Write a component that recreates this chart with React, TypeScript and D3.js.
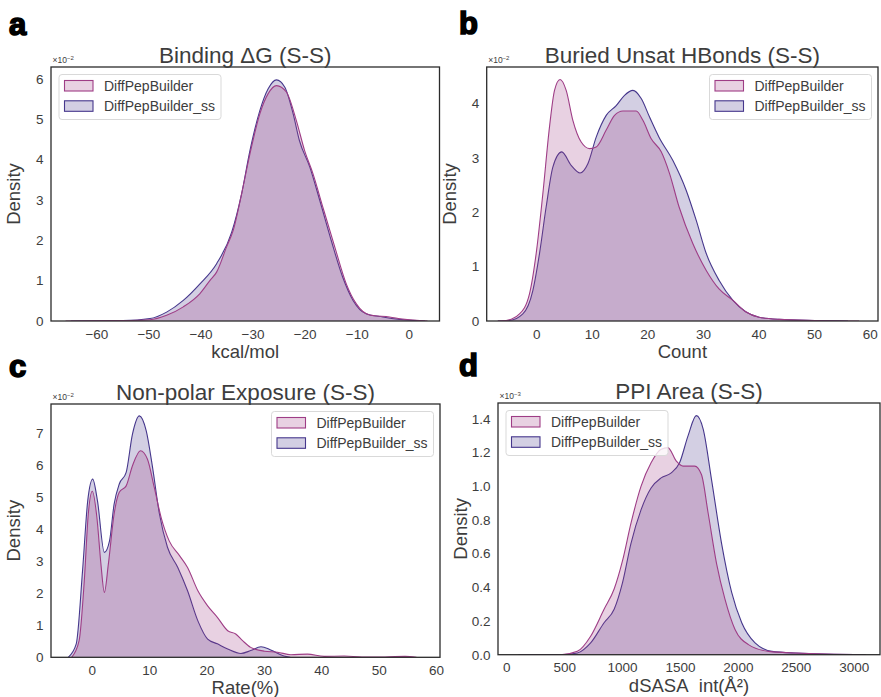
import React from 'react';
import * as d3 from 'd3';

// ---------- Data (density values in units shown on each axis) ----------
const SERIES_NAMES = ['DiffPepBuilder', 'DiffPepBuilder_ss'];
const PINK = '#9e3d86';
const PURPLE = '#46378c';

// Panel a: Binding ΔG (×10^-2)
const A_PINK_X = [-66, -55, -49.8, -46.6, -43.4, -40.2, -38.3, -37.0, -35.1, -33.8, -32.2, -30.6, -28.7, -27.1, -25.5, -23.6, -21.7, -20.1, -18.5, -16.6, -14.3, -12.1, -10.2, -7.6, -3.8, -1.3, 3.5];
const A_PINK_Y = [0, 0.01, 0.03, 0.14, 0.35, 0.68, 1.0, 1.21, 1.83, 2.25, 3.15, 4.14, 5.13, 5.63, 5.83, 5.67, 4.97, 4.22, 3.65, 2.82, 1.83, 0.92, 0.43, 0.15, 0.1, 0.05, 0];
const A_PURPLE_X = [-65, -55, -49.8, -46.6, -43.4, -40.2, -37.0, -34.1, -32.2, -30.6, -28.7, -27.1, -25.5, -23.9, -22.3, -21.1, -19.1, -17.2, -15.0, -12.8, -10.8, -8.3, -5.1, -1.9, 3];
const A_PURPLE_Y = [0, 0.01, 0.06, 0.22, 0.51, 0.92, 1.42, 2.2, 3.15, 4.22, 5.21, 5.75, 5.97, 5.79, 5.13, 4.47, 3.81, 2.99, 2.0, 1.09, 0.51, 0.18, 0.1, 0.04, 0];

// Panel b: Buried Unsat HBonds (×10^-2)
const B_PINK_X = [-7, -5.5, -3.1, -1.3, -0.1, 1.1, 2.3, 3.2, 4.2, 5.3, 6.5, 8.0, 9.5, 10.7, 12.5, 14.0, 15.5, 17.9, 19.1, 20.6, 22.4, 23.9, 25.6, 28.1, 30.5, 32.8, 35.3, 37.6, 40.0, 43.6, 50, 58];
const B_PINK_Y = [0, 0.01, 0.13, 0.5, 1.24, 2.34, 3.57, 4.24, 4.44, 4.24, 3.69, 3.29, 3.17, 3.2, 3.51, 3.78, 3.86, 3.86, 3.69, 3.35, 3.11, 2.71, 2.1, 1.42, 0.93, 0.59, 0.38, 0.17, 0.07, 0.03, 0.01, 0];
const B_PURPLE_X = [-7, -4.9, -2.5, -0.7, 0.5, 1.7, 2.9, 4.5, 6.2, 7.8, 9.2, 10.7, 12.5, 14.3, 15.8, 17.3, 18.8, 20.3, 22.0, 24.5, 26.9, 28.7, 30.5, 32.8, 35.3, 37.6, 40, 43.6, 50, 56];
const B_PURPLE_Y = [0, 0.01, 0.13, 0.56, 1.24, 2.1, 2.83, 3.11, 2.86, 2.72, 2.89, 3.38, 3.78, 3.96, 4.15, 4.24, 4.09, 3.75, 3.38, 2.95, 2.4, 1.85, 1.24, 0.75, 0.38, 0.17, 0.07, 0.03, 0.01, 0];

// Panel c: Non-polar Exposure (×10^-2)
const C_PINK_X = [-3.6, -2.3, -1.4, -0.7, 0, 0.8, 1.5, 2.1, 2.8, 3.8, 4.7, 5.9, 7.0, 8.4, 9.6, 10.8, 12.0, 13.4, 15.2, 16.6, 18.4, 20.1, 21.8, 23.6, 25.0, 26.2, 27.6, 30.0, 32.3, 34.6, 37.5, 40.4, 43.9, 47, 51, 54.5, 56.5];
const C_PINK_Y = [0, 0.52, 2.39, 4.48, 5.19, 4.37, 2.92, 2.03, 2.92, 4.48, 5.16, 5.36, 5.99, 6.46, 6.2, 5.31, 4.37, 3.64, 3.18, 2.81, 2.08, 1.61, 1.25, 0.83, 0.73, 0.52, 0.31, 0.19, 0.16, 0.08, 0.1, 0.03, 0.04, 0.01, 0.01, 0.03, 0];
const C_PURPLE_X = [-4.2, -2.8, -1.7, -0.8, 0.07, 0.9, 2.1, 3.0, 3.8, 4.7, 5.9, 7.0, 8.2, 9.4, 10.5, 11.7, 13.1, 14.9, 16.6, 18.4, 20.1, 21.8, 23.6, 25.9, 27.6, 29.4, 31.1, 33.4, 34.5];
const C_PURPLE_Y = [0, 0.42, 2.71, 4.89, 5.57, 4.89, 3.28, 3.64, 4.79, 5.42, 5.78, 6.98, 7.55, 7.08, 5.94, 4.48, 3.44, 2.81, 2.08, 1.14, 0.57, 0.42, 0.26, 0.12, 0.21, 0.33, 0.23, 0.04, 0];

// Panel d: PPI Area (×10^-3)
const D_PINK_X = [100, 463, 609, 724, 840, 927, 1000, 1072, 1159, 1246, 1333, 1391, 1464, 1522, 1623, 1681, 1739, 1812, 1884, 1971, 2087, 2260, 2500, 3100];
const D_PINK_Y = [0, 0, 0.02, 0.11, 0.27, 0.39, 0.56, 0.78, 1.0, 1.14, 1.22, 1.23, 1.15, 1.12, 1.12, 1.07, 0.84, 0.54, 0.33, 0.15, 0.06, 0.02, 0.01, 0];
const D_PURPLE_X = [100, 463, 609, 724, 840, 927, 1000, 1072, 1159, 1246, 1333, 1420, 1492, 1565, 1637, 1696, 1768, 1855, 1942, 2029, 2144, 2290, 2492, 3100];
const D_PURPLE_Y = [0, 0, 0.01, 0.07, 0.19, 0.27, 0.43, 0.66, 0.86, 0.99, 1.05, 1.08, 1.14, 1.3, 1.42, 1.34, 1.04, 0.66, 0.37, 0.19, 0.07, 0.02, 0.01, 0];

// Tick labels
const A_XTICKS = [-60, -50, -40, -30, -20, -10, 0];
const A_YTICKS = [0, 1, 2, 3, 4, 5, 6];
const B_XTICKS = [0, 10, 20, 30, 40, 50, 60];
const B_YTICKS = [0, 1, 2, 3, 4];
const C_XTICKS = [0, 10, 20, 30, 40, 50, 60];
const C_YTICKS = [0, 1, 2, 3, 4, 5, 6, 7];
const D_XTICKS = [0, 500, 1000, 1500, 2000, 2500, 3000];
const D_YTICKS = [0, 0.2, 0.4, 0.6, 0.8, 1.0, 1.2, 1.4];

const FONT = '"Liberation Sans", Arial, Helvetica, sans-serif';
const TEXT = '#3d3d3d';

type PanelCfg = {
  id: string;
  letter: string;
  letterPos: [number, number];
  box: { l: number; r: number; t: number; b: number };
  xDom: [number, number];
  yDom: [number, number];
  xTicks: number[];
  yTicks: number[];
  yFmt: (v: number) => string;
  title: string;
  xLabel: string;
  exp: string;
  legend: 'ul' | 'ur';
  pink: [number[], number[]];
  purple: [number[], number[]];
};

const fmtInt = d3.format('d');
const fmt1 = d3.format('.1f');

const PANELS: PanelCfg[] = [
  {
    id: 'a', letter: 'a', letterPos: [9, 35],
    box: { l: 51, r: 439.5, t: 67, b: 321 },
    xDom: [-68.8, 5.8], yDom: [0, 6.29],
    xTicks: A_XTICKS, yTicks: A_YTICKS, yFmt: fmtInt,
    title: 'Binding ΔG (S-S)', xLabel: 'kcal/mol', exp: '−2', legend: 'ul',
    pink: [A_PINK_X, A_PINK_Y], purple: [A_PURPLE_X, A_PURPLE_Y],
  },
  {
    id: 'b', letter: 'b', letterPos: [459, 34],
    box: { l: 486.7, r: 878, t: 67, b: 321 },
    xDom: [-9, 61.4], yDom: [0, 4.67],
    xTicks: B_XTICKS, yTicks: B_YTICKS, yFmt: fmtInt,
    title: 'Buried Unsat HBonds (S-S)', xLabel: 'Count', exp: '−2', legend: 'ur',
    pink: [B_PINK_X, B_PINK_Y], purple: [B_PURPLE_X, B_PURPLE_Y],
  },
  {
    id: 'c', letter: 'c', letterPos: [9, 377],
    box: { l: 51, r: 440, t: 404, b: 657.3 },
    xDom: [-7.2, 60.6], yDom: [0, 7.92],
    xTicks: C_XTICKS, yTicks: C_YTICKS, yFmt: fmtInt,
    title: 'Non-polar Exposure (S-S)', xLabel: 'Rate(%)', exp: '−2', legend: 'ur',
    pink: [C_PINK_X, C_PINK_Y], purple: [C_PURPLE_X, C_PURPLE_Y],
  },
  {
    id: 'd', letter: 'd', letterPos: [459, 376],
    box: { l: 498, r: 880, t: 403, b: 654.7 },
    xDom: [-76, 3223], yDom: [0, 1.495],
    xTicks: D_XTICKS, yTicks: D_YTICKS, yFmt: fmt1,
    title: 'PPI Area (S-S)', xLabel: 'dSASA\u00a0\u00a0int(Å²)', exp: '−3', legend: 'ul',
    pink: [D_PINK_X, D_PINK_Y], purple: [D_PURPLE_X, D_PURPLE_Y],
  },
];

function Panel({ cfg }: { cfg: PanelCfg }) {
  const { box } = cfg;
  const x = d3.scaleLinear().domain(cfg.xDom).range([box.l, box.r]);
  const y = d3.scaleLinear().domain(cfg.yDom).range([box.b, box.t]);
  const mkArea = (xs: number[], ys: number[]) =>
    d3
      .area<number>()
      .x((_, i) => x(xs[i]))
      .y0(y(0))
      .y1((_, i) => y(ys[i]))
      .curve(d3.curveMonotoneX)(ys) as string;
  const mkLine = (xs: number[], ys: number[]) =>
    d3
      .line<number>()
      .x((_, i) => x(xs[i]))
      .y((_, i) => y(ys[i]))
      .curve(d3.curveMonotoneX)(ys) as string;

  const cx = (box.l + box.r) / 2;
  const cy = (box.t + box.b) / 2;
  const legW = 162;
  const legX = cfg.legend === 'ul' ? box.l + 8 : box.r - 6.5 - legW;
  const legY = box.t + 7.5;
  const series = [
    { name: SERIES_NAMES[0], color: PINK },
    { name: SERIES_NAMES[1], color: PURPLE },
  ];
  const clipId = `clip-${cfg.id}`;
  return (
    <g>
      <defs>
        <clipPath id={clipId}>
          <rect x={box.l} y={box.t} width={box.r - box.l} height={box.b - box.t} />
        </clipPath>
      </defs>
      <g clipPath={`url(#${clipId})`}>
        <path d={mkArea(cfg.purple[0], cfg.purple[1])} fill={PURPLE} fillOpacity={0.24} />
        <path d={mkLine(cfg.purple[0], cfg.purple[1])} fill="none" stroke={PURPLE} strokeWidth={1.1} />
        <path d={mkArea(cfg.pink[0], cfg.pink[1])} fill={PINK} fillOpacity={0.24} />
        <path d={mkLine(cfg.pink[0], cfg.pink[1])} fill="none" stroke={PINK} strokeWidth={1.1} />
      </g>
      <rect
        x={box.l}
        y={box.t}
        width={box.r - box.l}
        height={box.b - box.t}
        fill="none"
        stroke="#2b2b2b"
        strokeWidth={1.3}
      />
      {cfg.xTicks.map((t) => (
        <text key={`x${t}`} x={x(t)} y={box.b + 17.5} textAnchor="middle" fontSize={13.5} fill={TEXT}>
          {d3.format('d')(t)}
        </text>
      ))}
      {cfg.yTicks.map((t) => (
        <text key={`y${t}`} x={box.l - 7.5} y={y(t) + 4.8} textAnchor="end" fontSize={13.5} fill={TEXT}>
          {cfg.yFmt(t)}
        </text>
      ))}
      <text x={cx} y={box.t - 4.5} textAnchor="middle" fontSize={22.5} fill={TEXT}>
        {cfg.title}
      </text>
      <text x={cx} y={box.b + 37} textAnchor="middle" fontSize={18.5} fill={TEXT} style={{ whiteSpace: 'pre' }}>
        {cfg.xLabel}
      </text>
      <text
        transform={`translate(${box.l - 31},${cy}) rotate(-90)`}
        textAnchor="middle"
        fontSize={18.5}
        fill={TEXT}
      >
        Density
      </text>
      <text x={box.l + 1.5} y={box.t - 4} fontSize={8.5} fill={TEXT}>
        ×10
        <tspan dy={-3.5} fontSize={6}>
          {cfg.exp}
        </tspan>
      </text>
      <text
        x={cfg.letterPos[0]}
        y={cfg.letterPos[1]}
        fontSize={31}
        fontWeight={900}
        fill="#000"
        stroke="#000"
        strokeWidth={1.6}
      >
        {cfg.letter}
      </text>
      <g>
        <rect
          x={legX}
          y={legY}
          width={legW}
          height={45}
          rx={3}
          fill="#fff"
          fillOpacity={0.8}
          stroke="#d9d9d9"
          strokeWidth={1}
        />
        {series.map((s, i) => (
          <g key={s.name}>
            <rect
              x={legX + 5.5}
              y={legY + 6 + i * 20.3}
              width={28.5}
              height={10.5}
              fill={s.color}
              fillOpacity={0.24}
              stroke={s.color}
              strokeWidth={1.1}
            />
            <text x={legX + 45} y={legY + 16.5 + i * 20.3} fontSize={14} fill={TEXT}>
              {s.name}
            </text>
          </g>
        ))}
      </g>
    </g>
  );
}

export default function App() {
  return (
    <svg
      width={881}
      height={697}
      viewBox="0 0 881 697"
      style={{ position: 'absolute', left: 0, top: 0, background: '#fff', fontFamily: FONT }}
    >
      <rect width={881} height={697} fill="#fff" />
      {PANELS.map((p) => (
        <Panel key={p.id} cfg={p} />
      ))}
    </svg>
  );
}
